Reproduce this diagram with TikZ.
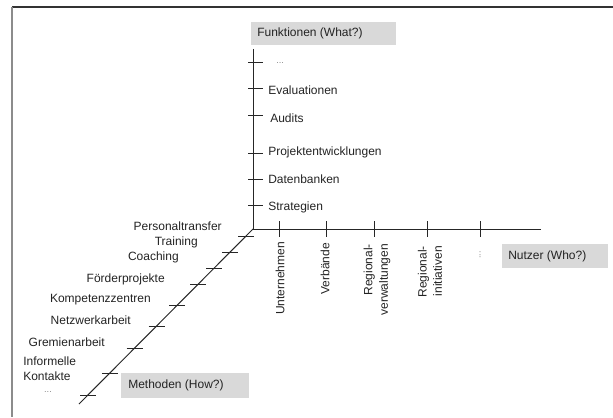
\documentclass[tikz,border=0pt]{standalone}
\usepackage{fontspec}
\setmainfont{Liberation Sans}
\definecolor{boxgray}{RGB}{217,217,217}
\definecolor{txt}{RGB}{35,35,35}
\begin{document}
\begin{tikzpicture}[x=0.75pt,y=-0.75pt,
  lab/.style={inner sep=0pt, text=txt, font=\fontsize{9}{11.5}\selectfont},
  dots/.style={inner sep=0pt, text=black!45, font=\fontsize{7}{8}\selectfont},
  axisline/.style={draw=black!85, line width=0.75pt},
  tickline/.style={draw=black!85, line width=0.75pt},
  gbox/.style={fill=boxgray}]
\useasboundingbox (0,0) rectangle (613,417);
% frame
\draw[black!80, line width=1pt] (12,7) -- (613,7);
\draw[black!45, line width=1.2pt] (12,7) -- (12,417);

% axes
\coordinate (O) at (253,229);
\coordinate (vtop) at (253,49);
\coordinate (hend) at (541,229);
\coordinate (dend) at (79,404);
\draw[axisline] (vtop) -- (O) -- (hend);
\draw[axisline] (O) -- (dend);

% vertical axis ticks
\foreach \y/\n in {63/v6,89/v5,116/v4,153/v3,179/v2,205/v1}{
  \coordinate (\n) at (253,\y);
  \draw[tickline] (\n) ++(-5,0) -- ++(15,0);
}
% horizontal axis ticks
\foreach \x/\n in {279/h1,326/h2,374/h3,427/h4,480/h5}{
  \coordinate (\n) at (\x,229);
  \draw[tickline] (\n) ++(0,-8) -- ++(0,16);
}
% diagonal axis ticks
\foreach \x/\y/\n in {246.0/236/d1,230.1/252/d2,214.2/268/d3,198.3/284/d4,177.4/305/d5,156.6/326/d6,134.7/348/d7,109.9/373/d8,88.0/395/d9}{
  \coordinate (\n) at (\x,\y);
  \draw[tickline] (\n) ++(-8,0) -- ++(16,0);
}

% gray label boxes
\fill[gbox] (251,22) rectangle (396,45);
\node[lab, anchor=west] (fkt) at (257,33.5) {Funktionen (What?)};
\fill[gbox] (502,244) rectangle (608,268);
\node[lab, anchor=west] (nutz) at (508,256) {Nutzer (Who?)};
\fill[gbox] (121,373) rectangle (249,398);
\node[lab, anchor=west] (meth) at (128,385.5) {Methoden (How?)};

% Funktionen labels
\node[dots, anchor=west] (f6) at (276,63) {...};
\node[lab, anchor=west] (f5) at (268,90) {Evaluationen};
\node[lab, anchor=west] (f4) at (270,118) {Audits};
\node[lab, anchor=west] (f3) at (268,152) {Projektentwicklungen};
\node[lab, anchor=west] (f2) at (268,179) {Datenbanken};
\node[lab, anchor=west] (f1) at (268,207) {Strategien};

% Nutzer labels
\node[lab, rotate=90, anchor=east, align=right] (n1) at (280,242) {Unternehmen};
\node[lab, rotate=90, anchor=east, align=right] (n2) at (325,243) {Verbände};
\node[lab, rotate=90, anchor=east, align=right] (n3) at (377,244) {Regional-\\verwaltungen};
\node[lab, rotate=90, anchor=east, align=right] (n4) at (430,246) {Regional-\\initiativen};
\node[dots, rotate=90] (n5) at (480,255) {...};

% Methoden labels
\node[lab, anchor=east] (m1) at (222,226) {Personaltransfer};
\node[lab, anchor=east] (m2) at (198,242) {Training};
\node[lab, anchor=east] (m3) at (179,257) {Coaching};
\node[lab, anchor=east] (m4) at (165,279) {Förderprojekte};
\node[lab, anchor=east] (m5) at (151,300) {Kompetenzzentren};
\node[lab, anchor=east] (m6) at (131,320) {Netzwerkarbeit};
\node[lab, anchor=east] (m7) at (105,342) {Gremienarbeit};
\node[lab, anchor=west, align=left] (m8) at (23,368.5) {Informelle\\Kontakte};
\node[dots] (m9) at (48,392) {...};
\end{tikzpicture}
\end{document}
